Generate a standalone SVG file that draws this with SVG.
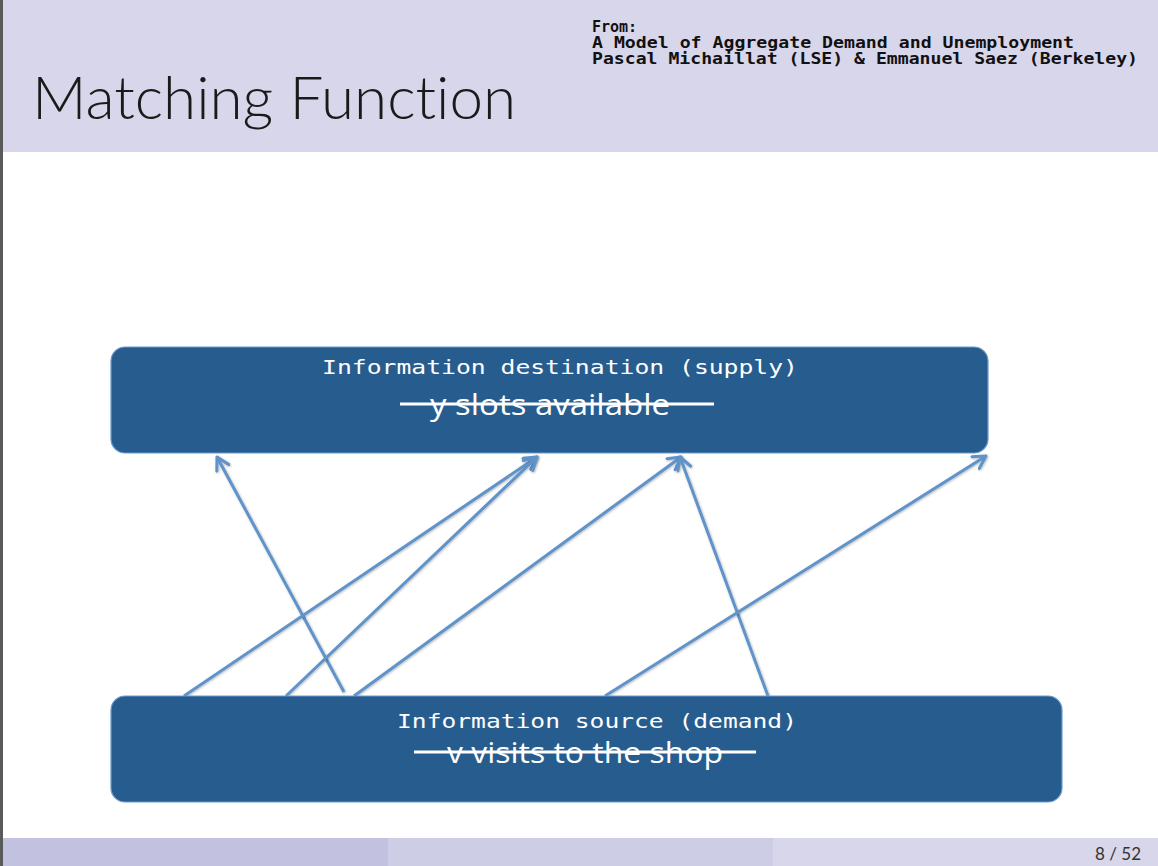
<svg xmlns="http://www.w3.org/2000/svg" width="1158" height="866" viewBox="0 0 1158 866">
<style>
.box{fill:#275D8E;stroke:#6B9BD0;stroke-width:1.2}
.mono{font-family:"DejaVu Sans Mono","Liberation Mono",monospace;fill:#fff;font-size:20px}
.cal{font-family:"Open Sans","Liberation Sans",sans-serif;fill:#fff;font-size:29px}
.strike{stroke:#fff;stroke-width:3}
.arr{stroke:#5E93C9;stroke-width:3;fill:none;marker-end:url(#ah);filter:url(#sh)}
.hdr{font-family:"DejaVu Sans Mono","Liberation Mono",monospace;font-weight:bold;font-size:15px;fill:#111}
</style>
<defs>
<marker id="ah" viewBox="0 0 12 12" refX="10" refY="6" markerWidth="5.5" markerHeight="5.5" orient="auto" markerUnits="strokeWidth">
<path d="M1,1 L10,6 L1,11" fill="none" stroke="#5E93C9" stroke-width="2.2" stroke-linecap="round" stroke-linejoin="round"/>
</marker>
<filter id="sh" x="-10%" y="-10%" width="120%" height="120%">
<feDropShadow dx="0.8" dy="0.8" stdDeviation="0.8" flood-color="#000" flood-opacity="0.3"/>
</filter>
</defs>
<rect x="0" y="0" width="1158" height="866" fill="#fff"/>
<rect x="0" y="0" width="1158" height="152" fill="#D8D6EA"/>
<rect x="0" y="838" width="388" height="28" fill="#C2C1E0"/>
<rect x="388" y="838" width="385" height="28" fill="#CDCDE6"/>
<rect x="773" y="838" width="385" height="28" fill="#D8D6EA"/>
<rect x="0" y="0" width="3" height="866" fill="#5A5A5A"/>
<text x="32" y="119" font-family="Lato,'Open Sans',sans-serif" font-weight="300" font-size="60" fill="#1a1a1a" style="font-variant-ligatures:none" textLength="484" lengthAdjust="spacingAndGlyphs">Matching Function</text>
<text class="hdr" x="592" y="32">From:</text>
<text class="hdr" x="592" y="48" textLength="482" lengthAdjust="spacingAndGlyphs">A Model of Aggregate Demand and Unemployment</text>
<text class="hdr" x="592" y="64" textLength="546" lengthAdjust="spacingAndGlyphs">Pascal Michaillat (LSE) &amp; Emmanuel Saez (Berkeley)</text>
<text x="1141" y="860" text-anchor="end" font-family="Lato,'Open Sans',sans-serif" font-size="17" fill="#333">8 / 52</text>
<g id="connectors">
<line class="arr" x1="344" y1="692" x2="217" y2="457"/>
<line class="arr" x1="184" y1="696" x2="537" y2="457"/>
<line class="arr" x1="286" y1="696" x2="537" y2="457"/>
<line class="arr" x1="539" y1="696" x2="539" y2="457"/>
<line class="arr" x1="354" y1="696" x2="681" y2="457"/>
<line class="arr" x1="768" y1="696" x2="680" y2="457"/>
<line class="arr" x1="605" y1="696" x2="986" y2="456"/>
</g>
<g id="node-supply">
<rect class="box" x="111" y="347" width="877" height="106" rx="14"/>
<text class="mono" x="322" y="374" textLength="476" lengthAdjust="spacingAndGlyphs">Information destination (supply)</text>
<text class="cal" x="550" y="415" text-anchor="middle" textLength="240" lengthAdjust="spacingAndGlyphs">y slots available</text>
<line class="strike" x1="400" y1="404" x2="714" y2="404"/>
</g>
<g id="node-demand">
<rect class="box" x="111" y="696" width="951" height="106" rx="14"/>
<text class="mono" x="397" y="728" textLength="400" lengthAdjust="spacingAndGlyphs">Information source (demand)</text>
<text class="cal" x="585" y="763" text-anchor="middle" textLength="276" lengthAdjust="spacingAndGlyphs">v visits to the shop</text>
<line class="strike" x1="414" y1="752" x2="756" y2="752"/>
</g>
</svg>
